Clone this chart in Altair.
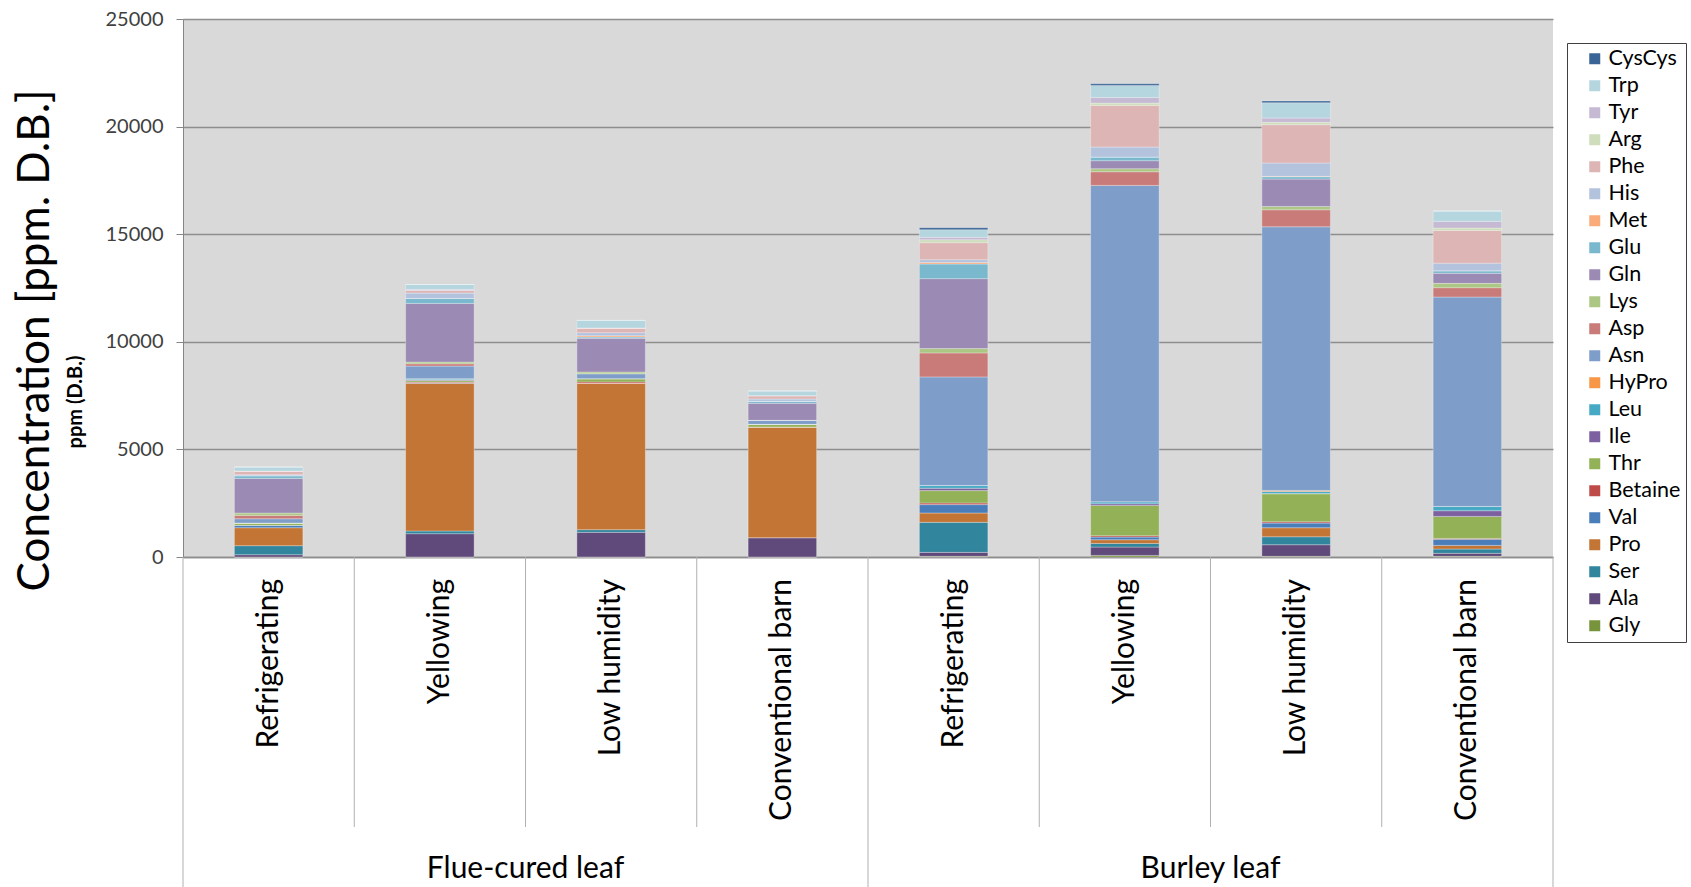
import altair as alt
import pandas as pd

# Categories: two leaf types, four curing treatments each
groups = ["Flue-cured leaf", "Burley leaf"]
treatments = ["Refrigerating", "Yellowing", "Low humidity", "Conventional barn"]

# Amino acids in stacking order (bottom of the bar first)
amino_acids = ["Gly", "Ala", "Ser", "Pro", "Val", "Betaine", "Thr", "Ile", "Leu", "HyPro",
               "Asn", "Asp", "Lys", "Gln", "Glu", "Met", "His", "Phe", "Arg", "Tyr", "Trp", "CysCys"]
colors = ["#77933C", "#604A7B", "#31859C", "#C27535", "#4A7EBB", "#BE4B48", "#93B157", "#7D60A0",
          "#46AAC5", "#F79646", "#7F9DC9", "#C97B79", "#ACC683", "#9B8AB4", "#7AB8CE", "#F9AB7A",
          "#B3C2DD", "#DDB5B5", "#CFDDBC", "#C5B9D3", "#B5D5DF", "#3A6496"]

# ppm (dry basis); order: FC Refrig, FC Yellow, FC Low hum, FC Conv, B Refrig, B Yellow, B Low hum, B Conv
gly     = [0, 0, 0, 0, 30, 75, 30, 30]
ala     = [108, 1084, 1146, 898, 185, 387, 540, 140]
ser     = [418, 124, 124, 0, 1395, 170, 370, 200]
pro     = [836, 6862, 6800, 5142, 435, 170, 420, 170]
val     = [108, 30, 0, 0, 390, 124, 215, 280]
betaine = [0, 30, 62, 0, 75, 62, 60, 45]
thr     = [108, 77, 155, 124, 575, 1410, 1300, 1020]
ile     = [0, 30, 0, 0, 110, 77, 20, 265]
leu     = [0, 46, 0, 0, 125, 93, 90, 200]
hypro   = [0, 0, 0, 0, 0, 0, 50, 0]
asn     = [201, 589, 232, 186, 5050, 14700, 12250, 9730]
asp     = [155, 108, 0, 0, 1115, 635, 790, 435]
lys     = [108, 77, 77, 0, 200, 140, 155, 200]
gln     = [1611, 2726, 1564, 790, 3250, 372, 1270, 465]
glu     = [124, 232, 62, 93, 680, 170, 110, 120]
met     = [0, 0, 62, 0, 75, 0, 20, 0]
his     = [46, 248, 139, 108, 125, 465, 620, 355]
phe     = [170, 124, 217, 155, 790, 1936, 1780, 1520]
arg     = [0, 0, 0, 0, 140, 108, 110, 110]
tyr     = [0, 47, 0, 0, 110, 263, 200, 310]
trp     = [186, 232, 356, 217, 355, 557, 710, 480]
cyscys  = [0, 0, 0, 0, 90, 77, 80, 0]

series = [gly, ala, ser, pro, val, betaine, thr, ile, leu, hypro, asn, asp, lys, gln,
          glu, met, his, phe, arg, tyr, trp, cyscys]
y_ticks = [0, 5000, 10000, 15000, 20000, 25000]

FONT = "Lato"
W, H = 1370, 538

keys = [f"{g}|{t}" for g in groups for t in treatments]
rows = []
for k, (aa, vals) in enumerate(zip(amino_acids, series)):
    for key, v in zip(keys, vals):
        rows.append({"key": key, "aa": aa, "stack": k, "ppm": v})
df = pd.DataFrame(rows)

bars = alt.Chart(df).mark_bar(stroke="white", strokeOpacity=0.3, strokeWidth=1).encode(
    x=alt.X("key:N", sort=keys,
            scale=alt.Scale(domain=keys, paddingInner=0.6, paddingOuter=0.3),
            axis=alt.Axis(labels=False, ticks=False, title=None, domain=True,
                          domainColor="#8C8C8C", domainWidth=1.5, grid=False)),
    y=alt.Y("ppm:Q", stack="zero",
            scale=alt.Scale(domain=[0, 25000], nice=False),
            axis=alt.Axis(values=y_ticks, format="d", title="Concentration [ppm. D.B.]",
                          titleFont=FONT, titleFontSize=44, titleFontWeight="normal",
                          titleColor="black", titleX=-148, titleY=321, titleAngle=270,
                          titleAlign="center", titleBaseline="middle",
                          labelFont=FONT, labelFontSize=20, labelColor="#404040",
                          labelPadding=13, tickSize=7, tickColor="#868686",
                          domainColor="#868686", grid=True, gridColor="#8E8E8E",
                          gridWidth=1.5)),
    color=alt.Color("aa:N",
                    scale=alt.Scale(domain=amino_acids[::-1], range=colors[::-1]),
                    legend=alt.Legend(title=None, orient="none", legendX=1384, legendY=24,
                                      symbolType="square", symbolSize=121,
                                      symbolStrokeWidth=0, symbolOffset=12,
                                      labelFont=FONT, labelFontSize=21.5, labelColor="black",
                                      labelOffset=3, rowPadding=4, padding=5,
                                      strokeColor="#404040", fillColor="white",
                                      labelLimit=200)),
    order=alt.Order("stack:Q", sort="ascending"),
)

xq = alt.Scale(domain=[0, len(keys)], nice=False, zero=False)

# second, bold line of the axis title
sub_title = alt.Chart(pd.DataFrame({"t": ["ppm (D.B.)"]})).mark_text(
    angle=270, font=FONT, fontSize=20, fontWeight="bold", color="black",
    align="center", baseline="middle"
).encode(x=alt.value(-107), y=alt.value(383), text="t:N")

cat_df = pd.DataFrame({"pos": [i + 0.5 for i in range(len(keys))],
                       "label": treatments * len(groups)})
cat_labels = alt.Chart(cat_df).mark_text(
    angle=270, align="right", baseline="middle", font=FONT, fontSize=30, color="black"
).encode(x=alt.X("pos:Q", scale=xq, axis=None), y=alt.value(H + 22), text="label:N")

n = len(treatments)
inner = [i for i in range(1, len(keys)) if i % n]
outer = [i for i in range(0, len(keys) + 1) if i % n == 0]

inner_rules = alt.Chart(pd.DataFrame({"pos": inner})).mark_rule(
    color="#B0B0B0", strokeWidth=1
).encode(x=alt.X("pos:Q", scale=xq, axis=None), y=alt.value(H), y2=alt.value(808))

outer_rules = alt.Chart(pd.DataFrame({"pos": outer})).mark_rule(
    color="#B0B0B0", strokeWidth=1
).encode(x=alt.X("pos:Q", scale=xq, axis=None), y=alt.value(H), y2=alt.value(868))

grp_df = pd.DataFrame({"pos": [n * g + n / 2 for g in range(len(groups))], "label": groups})
group_labels = alt.Chart(grp_df).mark_text(
    baseline="middle", align="center", font=FONT, fontSize=30, color="black"
).encode(x=alt.X("pos:Q", scale=xq, axis=None), y=alt.value(850), text="label:N")

chart = alt.layer(
    bars, inner_rules, outer_rules, cat_labels, group_labels, sub_title
).resolve_scale(x="independent").properties(
    width=W, height=H,
    autosize=alt.AutoSizeParams(type="none"),
    padding={"left": 183, "top": 19, "right": 138, "bottom": 330},
    background="white",
).configure_view(stroke=None, fill="#D9D9D9")

chart.save("out.html", embed_options={"renderer": "svg", "actions": False})
